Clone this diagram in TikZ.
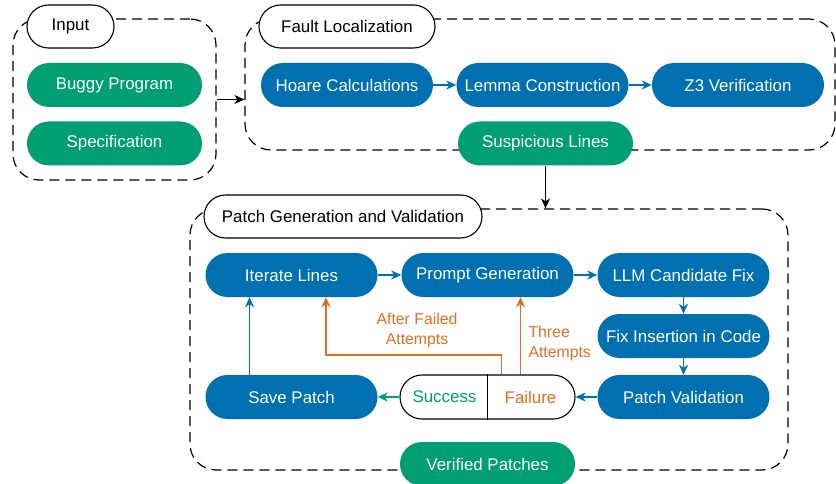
\documentclass[tikz,border=0pt]{standalone}
\usepackage{fontspec}
\setmainfont{Liberation Sans}
\usetikzlibrary{positioning,arrows.meta}

\definecolor{stepblue}{HTML}{0070B0}
\definecolor{datagreen}{HTML}{009E73}
\definecolor{retryorange}{HTML}{E07020}

\tikzset{
  pill/.style={rectangle, rounded corners=22pt, minimum width=172pt, minimum height=44pt,
    inner sep=1pt, font=\fontsize{16.9}{20}\selectfont},
  proc/.style={pill, fill=stepblue, text=white},
  data/.style={pill, fill=datagreen, text=white},
  grouplabel/.style={rectangle, rounded corners=21.5pt, draw=black, fill=white, line width=1.1pt,
    minimum height=43pt, font=\fontsize{16.9}{20}\selectfont},
  groupbox/.style={rectangle, draw=black, line width=1.2pt, dash pattern=on 10pt off 6pt,
    rounded corners=26pt},
  flow/.style={->, stepblue, line width=1.6pt},
  retry/.style={->, retryorange, line width=1.6pt},
  note/.style={text=retryorange, font=\fontsize{15.8}{20}\selectfont},
}

\begin{document}
\begin{tikzpicture}[x=1pt, y=-1pt, on grid=true, node distance=61pt and 196pt,
    >={Stealth[length=10pt, width=9pt, inset=3pt]}]
  \useasboundingbox (0,0) rectangle (836,484);

  % group frames
  \node[groupbox, minimum width=203pt, minimum height=161pt] (inbox) at (114.5,99.5) {};
  \node[groupbox, minimum width=590pt, minimum height=131pt] (faultbox) at (540,84.5) {};
  \node[groupbox, minimum width=598pt, minimum height=261pt] (patchbox) at (489,339.5) {};

  \node[grouplabel, minimum width=87pt] (inlbl) at (70.5,26.5) {Input};
  \node[grouplabel, minimum width=176pt] (faultlbl) at (347,26.5) {Fault Localization};
  \node[grouplabel, minimum width=278pt] (patchlbl) at (343,216.5) {Patch Generation and Validation};

  % input
  \node[data, minimum width=175pt] (buggy) at (114.5,85) {Buggy Program};
  \node[data, minimum width=175pt, below=58.5pt of buggy] (spec) {Specification};

  % fault localization
  \node[proc] (hoare) at (347,85) {Hoare Calculations};
  \node[proc, right=195.5pt of hoare] (lemma) {Lemma Construction};
  \node[proc, right=195.5pt of lemma] (z3) {Z3 Verification};
  \node[data, minimum width=175pt, below=58.5pt of lemma, xshift=3pt] (susp) {Suspicious Lines};

  % patch generation and validation
  \node[proc] (iter) at (291.5,275) {Iterate Lines};
  \node[proc, right=of iter] (prompt) {Prompt Generation};
  \node[proc, right=of prompt] (llm) {LLM Candidate Fix};
  \node[proc, below=of llm] (insert) {Fix Insertion in Code};
  \node[proc, below=of insert] (valid) {Patch Validation};
  \node[pill, draw=black, line width=1.1pt, fill=white, minimum width=175pt, left=of valid] (result) {};
  \node[proc, left=of result] (save) {Save Patch};
  \node[data, minimum width=175pt, below=67pt of result] (verified) {Verified Patches};

  \node[text=datagreen, font=\fontsize{16.9}{20}\selectfont] (success) at (444.5,397) {Success};
  \node[text=retryorange, font=\fontsize{16.9}{20}\selectfont] (failure) at (530.5,397) {Failure};
  \draw[line width=1.1pt] (result.north) -- (result.south);

  % connectors
  \draw[->, line width=1.5pt] (inbox.east) -- (inbox.east -| faultbox.west);
  \draw[->, line width=1.5pt] (susp.south) -- (susp.south |- patchbox.north);

  \draw[flow] (hoare) -- (lemma);
  \draw[flow] (lemma) -- (z3);

  \draw[flow] (iter) -- (prompt);
  \draw[flow] (prompt) -- (llm);
  \draw[flow] (llm) -- (insert);
  \draw[flow] (insert) -- (valid);
  \draw[flow] (valid) -- (result);
  \draw[->, datagreen, line width=1.6pt] (result) -- (save);
  \draw[flow] ([xshift=-42pt]save.north) -- ([xshift=-42pt]iter.south);

  \coordinate (bend) at (326,355);
  \draw[retry] ([xshift=14pt]result.north) |- (bend) -- (bend |- iter.south);
  \draw[retry] ([xshift=33pt]result.north) -- ([xshift=33pt]result.north |- prompt.south);

  \node[note, align=center] (afterlbl) at (417,330) {After Failed\\Attempts};
  \node[note, align=left, anchor=west] (threelbl) at (525,343) {Three\\Attempts};
\end{tikzpicture}
\end{document}
